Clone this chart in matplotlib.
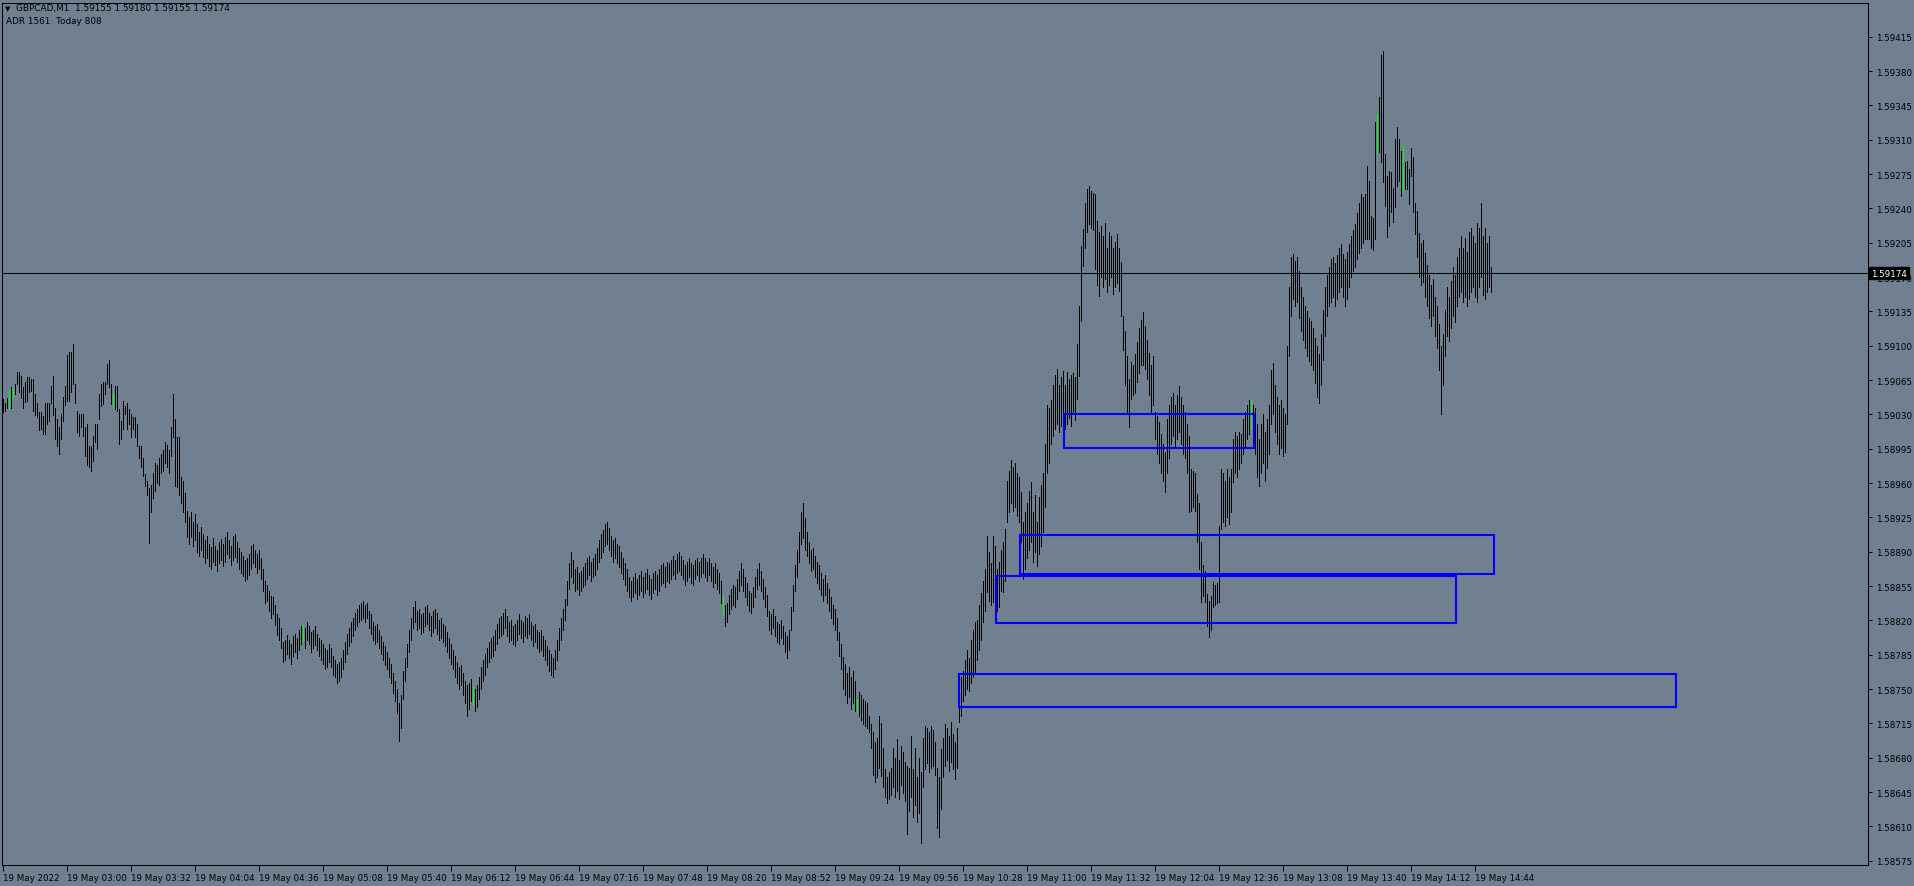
import matplotlib
matplotlib.use("Agg")
import matplotlib.pyplot as plt
import matplotlib.transforms as mtransforms
from matplotlib.patches import Rectangle
import numpy as np

# GBPCAD M1, 19 May 2022 - bar highs / lows in points above 1.58500
base = 1.58500
point = 0.00001

hi = []
lo = []
# bars 0-19
hi += [546, 542, 547, 555, 558, 557, 561, 573, 573, 569, 558, 563, 568, 568, 566, 566, 551, 542, 532, 532]
lo += [532, 533, 537, 535, 537, 547, 551, 561, 553, 547, 537, 543, 544, 553, 554, 533, 529, 527, 514, 515]
# bars 20-39
hi += [528, 542, 542, 542, 559, 569, 537, 525, 517, 530, 548, 559, 591, 594, 594, 602, 561, 533, 530, 530]
lo += [510, 510, 520, 523, 542, 529, 505, 498, 490, 505, 523, 540, 544, 544, 553, 561, 542, 512, 508, 517]
# bars 40-59
hi += [530, 517, 520, 498, 498, 508, 520, 520, 551, 561, 563, 563, 581, 585, 561, 551, 559, 559, 535, 523]
lo += [508, 488, 478, 476, 472, 482, 502, 495, 525, 539, 541, 551, 561, 558, 541, 539, 535, 533, 500, 505]
# bars 60-79
hi += [544, 539, 542, 535, 530, 527, 527, 520, 498, 498, 486, 469, 462, 455, 458, 470, 480, 478, 486, 490]
lo += [515, 530, 515, 520, 507, 515, 507, 498, 486, 476, 467, 457, 448, 399, 430, 445, 452, 460, 458, 470]
# bars 80-99
hi += [494, 502, 499, 494, 517, 551, 525, 507, 507, 466, 462, 450, 432, 425, 430, 420, 428, 418, 410, 415]
lo += [472, 480, 476, 470, 488, 507, 457, 456, 448, 440, 430, 420, 405, 398, 405, 396, 402, 390, 386, 392]
# bars 100-119
hi += [408, 402, 406, 398, 395, 404, 396, 392, 400, 403, 398, 405, 410, 402, 396, 406, 408, 400, 394, 390]
lo += [385, 378, 384, 375, 372, 380, 376, 370, 378, 382, 375, 380, 388, 384, 376, 382, 385, 380, 372, 368]
# bars 120-139
hi += [386, 382, 384, 388, 396, 398, 392, 388, 392, 384, 372, 360, 356, 350, 345, 344, 336, 326, 322, 312]
lo += [365, 360, 362, 366, 372, 378, 374, 368, 372, 362, 350, 338, 340, 330, 322, 326, 315, 305, 300, 292]
# bars 140-159
hi += [298, 300, 305, 300, 296, 304, 306, 302, 310, 314, 315, 312, 318, 314, 308, 310, 314, 306, 302, 300]
lo += [278, 280, 286, 282, 276, 284, 288, 282, 290, 296, 298, 292, 300, 296, 288, 292, 295, 290, 284, 280]
# bars 160-179
hi += [296, 292, 290, 296, 292, 284, 280, 276, 278, 282, 290, 298, 306, 312, 318, 322, 328, 332, 336, 338]
lo += [276, 270, 272, 278, 272, 264, 262, 256, 258, 262, 270, 278, 286, 294, 298, 304, 310, 314, 318, 320]
# bars 180-199
hi += [340, 336, 338, 330, 326, 318, 314, 316, 310, 304, 298, 294, 288, 282, 276, 266, 258, 250, 236, 244]
lo += [322, 318, 322, 312, 306, 300, 296, 298, 292, 286, 280, 274, 270, 262, 256, 246, 238, 226, 197, 210]
# bars 200-219
hi += [268, 282, 296, 310, 322, 334, 340, 330, 332, 326, 328, 334, 336, 328, 324, 330, 332, 328, 320, 322]
lo += [240, 258, 272, 288, 300, 312, 318, 310, 312, 306, 308, 314, 316, 310, 304, 308, 312, 306, 300, 302]
# bars 220-239
hi += [316, 314, 308, 302, 296, 290, 284, 278, 272, 274, 266, 258, 254, 256, 260, 252, 250, 254, 262, 272]
lo += [298, 294, 288, 282, 276, 270, 262, 256, 250, 254, 244, 236, 222, 230, 238, 234, 228, 232, 240, 250]
# bars 240-259
hi += [280, 286, 292, 298, 302, 304, 310, 316, 322, 324, 328, 332, 324, 318, 320, 314, 316, 320, 326, 320]
lo += [258, 264, 272, 278, 282, 284, 290, 296, 302, 304, 306, 312, 304, 298, 300, 296, 294, 300, 306, 302]
# bars 260-279
hi += [318, 324, 322, 326, 318, 314, 316, 310, 308, 310, 304, 300, 294, 290, 286, 282, 290, 300, 312, 322]
lo += [298, 304, 302, 306, 300, 294, 298, 292, 288, 290, 284, 280, 274, 268, 264, 262, 270, 280, 290, 300]
# bars 280-299
hi += [332, 342, 360, 378, 390, 382, 372, 374, 368, 370, 374, 378, 384, 386, 380, 384, 388, 394, 402, 408]
lo += [310, 320, 336, 352, 364, 358, 350, 352, 346, 350, 354, 356, 362, 366, 360, 364, 366, 372, 380, 384]
# bars 300-319
hi += [412, 418, 420, 414, 406, 402, 404, 398, 396, 390, 384, 378, 372, 364, 360, 364, 368, 362, 366, 370]
lo += [390, 396, 398, 392, 386, 380, 384, 378, 374, 368, 362, 356, 350, 344, 340, 344, 348, 342, 346, 350]
# bars 320-339
hi += [364, 368, 372, 366, 362, 368, 370, 366, 372, 376, 378, 374, 380, 378, 382, 386, 382, 388, 390, 386]
lo += [344, 348, 352, 346, 342, 348, 352, 346, 350, 356, 358, 354, 360, 358, 362, 366, 362, 368, 370, 366]
# bars 340-359
hi += [382, 376, 380, 384, 378, 376, 382, 384, 380, 384, 388, 384, 380, 384, 378, 374, 378, 372, 368, 360]
lo += [362, 356, 360, 364, 358, 356, 362, 366, 360, 364, 368, 364, 360, 366, 360, 354, 358, 352, 348, 338]
# bars 360-379
hi += [346, 336, 338, 346, 352, 356, 354, 362, 370, 378, 372, 364, 358, 350, 348, 354, 364, 372, 378, 370]
lo += [326, 314, 318, 326, 332, 336, 334, 342, 350, 356, 350, 344, 336, 330, 328, 334, 344, 352, 356, 350]
# bars 380-399
hi += [362, 354, 346, 330, 326, 332, 324, 318, 316, 320, 314, 308, 304, 310, 334, 356, 376, 392, 410, 430]
lo += [342, 334, 324, 310, 306, 312, 304, 298, 296, 302, 296, 288, 282, 290, 310, 330, 350, 364, 380, 398]
# bars 400-419
hi += [440, 424, 410, 400, 392, 394, 386, 380, 376, 368, 362, 366, 358, 352, 344, 336, 332, 322, 308, 296]
lo += [404, 392, 386, 378, 370, 372, 364, 358, 352, 346, 340, 346, 338, 330, 322, 316, 310, 300, 284, 270]
# bars 420-439
hi += [283, 276, 266, 272, 262, 268, 258, 240, 247, 244, 240, 238, 236, 223, 214, 206, 196, 200, 223, 215]
lo += [250, 244, 236, 242, 230, 236, 228, 227, 222, 218, 214, 212, 210, 206, 190, 162, 155, 160, 170, 161]
# bars 440-459
hi += [190, 168, 160, 165, 170, 190, 180, 199, 178, 192, 186, 176, 172, 170, 202, 168, 190, 160, 180, 165]
lo += [150, 140, 134, 138, 142, 150, 140, 146, 138, 152, 144, 136, 102, 126, 140, 120, 132, 114, 124, 93]
# bars 460-479
hi += [200, 212, 210, 206, 212, 208, 196, 170, 160, 189, 200, 214, 210, 202, 216, 204, 196, 210, 234, 262]
lo += [150, 168, 175, 165, 170, 172, 162, 108, 99, 128, 160, 172, 178, 166, 176, 168, 158, 170, 216, 222]
# bars 480-499
hi += [268, 280, 290, 282, 300, 310, 318, 320, 336, 348, 360, 372, 406, 390, 378, 406, 396, 372, 380, 392]
lo += [238, 244, 250, 248, 256, 262, 267, 280, 290, 300, 318, 330, 349, 340, 336, 339, 352, 330, 334, 350]
# bars 500-519
hi += [400, 413, 462, 472, 484, 476, 480, 470, 466, 451, 420, 430, 440, 452, 461, 430, 448, 420, 446, 458]
lo += [349, 360, 420, 430, 440, 432, 436, 426, 420, 400, 362, 372, 384, 392, 400, 380, 390, 375, 388, 396]
# bars 520-539
hi += [470, 500, 540, 536, 545, 560, 570, 576, 560, 568, 574, 560, 573, 566, 570, 572, 568, 602, 640, 702]
lo += [410, 436, 470, 480, 500, 508, 515, 520, 512, 518, 522, 515, 520, 526, 518, 530, 524, 546, 569, 625]
# bars 540-559
hi += [719, 745, 760, 763, 758, 756, 755, 727, 716, 722, 712, 725, 700, 716, 712, 700, 706, 714, 700, 685]
lo += [681, 700, 716, 724, 720, 718, 678, 662, 651, 670, 660, 668, 655, 662, 670, 653, 660, 664, 656, 630]
# bars 560-579
hi += [630, 615, 590, 566, 583, 580, 592, 604, 618, 626, 634, 620, 606, 593, 580, 590, 532, 528, 522, 510]
lo += [596, 560, 530, 517, 546, 550, 552, 563, 572, 580, 580, 576, 566, 550, 532, 540, 505, 490, 480, 470]
# bars 580-599
hi += [500, 492, 525, 540, 548, 552, 540, 550, 559, 548, 540, 532, 520, 508, 474, 472, 470, 449, 440, 400]
lo += [462, 451, 470, 486, 500, 508, 496, 505, 512, 500, 490, 486, 470, 430, 431, 436, 431, 400, 372, 339]
# bars 600-619
hi += [376, 370, 347, 340, 345, 359, 356, 358, 416, 474, 470, 462, 474, 466, 474, 505, 512, 508, 512, 510]
lo += [345, 339, 314, 303, 310, 334, 336, 338, 339, 413, 420, 416, 425, 418, 430, 461, 470, 466, 474, 480]
# bars 620-639
hi += [525, 532, 540, 545, 546, 540, 536, 520, 505, 520, 530, 512, 525, 540, 575, 582, 560, 548, 540, 545]
lo += [490, 498, 505, 510, 515, 500, 490, 466, 457, 470, 480, 462, 475, 490, 520, 530, 512, 500, 490, 496]
# bars 640-659
hi += [536, 530, 600, 660, 690, 694, 686, 690, 676, 660, 650, 640, 635, 628, 625, 618, 608, 600, 592, 612]
lo += [488, 492, 520, 590, 630, 648, 640, 645, 628, 615, 606, 598, 590, 584, 580, 575, 562, 548, 542, 560]
# bars 660-679
hi += [636, 660, 672, 680, 688, 690, 684, 692, 700, 704, 694, 688, 696, 704, 712, 718, 724, 735, 745, 755]
lo += [585, 610, 630, 640, 645, 650, 640, 648, 655, 660, 650, 640, 648, 660, 670, 676, 680, 688, 695, 700]
# bars 680-699
hi += [752, 755, 783, 768, 732, 730, 828, 836, 854, 896, 900, 795, 773, 778, 777, 761, 811, 823, 811, 799]
lo += [705, 709, 709, 709, 700, 698, 709, 795, 797, 787, 767, 742, 711, 722, 736, 726, 741, 763, 768, 753]
# bars 700-719
hi += [804, 787, 788, 780, 802, 792, 746, 737, 715, 705, 708, 695, 682, 672, 662, 668, 650, 640, 622, 600]
lo += [758, 760, 760, 744, 773, 736, 714, 690, 670, 662, 665, 650, 640, 628, 620, 630, 610, 598, 575, 530]
# bars 720-739
hi += [612, 636, 660, 650, 666, 680, 672, 690, 700, 712, 700, 710, 696, 716, 720, 712, 705, 725, 720, 746]
lo += [560, 590, 610, 605, 618, 630, 624, 640, 650, 655, 645, 650, 640, 648, 655, 660, 650, 645, 660, 670]
# bars 740-744
hi += [712, 720, 705, 712, 680]
lo += [652, 648, 655, 660, 655]

green_bars = [3, 5, 55, 150, 235, 360, 427, 624, 687, 700]

# supply/demand boxes (bar index start/end, low/high in points)
box_start = [530.5, 508.5, 496.5, 478]
box_end = [625.5, 745.5, 726.5, 836.5]
box_low = [496, 367, 317, 232]
box_high = [530, 407, 365, 265]

last_price = 1.59174
time_labels = ['19 May 2022', '19 May 03:00', '19 May 03:32', '19 May 04:04', '19 May 04:36',
               '19 May 05:08', '19 May 05:40', '19 May 06:12', '19 May 06:44', '19 May 07:16',
               '19 May 07:48', '19 May 08:20', '19 May 08:52', '19 May 09:24', '19 May 09:56',
               '19 May 10:28', '19 May 11:00', '19 May 11:32', '19 May 12:04', '19 May 12:36',
               '19 May 13:08', '19 May 13:40', '19 May 14:12', '19 May 14:44']

bg = '#708090'
plt.rcParams['font.family'] = ['DejaVu Sans']

W, H = 1914, 887
fig = plt.figure(figsize=(W / 100, H / 100), dpi=100, facecolor=bg)
ax = fig.add_axes([2 / W, 21 / H, 1866 / W, 862 / H], facecolor=bg)

x = np.arange(len(hi))
highs = base + np.array(hi) * point
lows = base + np.array(lo) * point
cols = ['#00ff00' if i in green_bars else 'black' for i in x]
# 1 px wide bars, no antialiasing (like the terminal)
ax.vlines(x, lows, highs, colors=cols, linewidth=0.6, antialiased=False, zorder=2)

# horizontal line at current price
ax.axhline(last_price, color='black', linewidth=0.75, zorder=1)

for s, e, l, h in zip(box_start, box_end, box_low, box_high):
    ax.add_patch(Rectangle((s, base + l * point), e - s, (h - l) * point,
                           fill=False, edgecolor='#0000ff', linewidth=1.5, zorder=3))

ax.set_xlim(-0.5, 932.5)
ax.set_ylim(1.585706, 1.594494)

# price axis
yt = np.arange(1.58575, 1.59416, 0.00035)
ax.yaxis.tick_right()
ax.set_yticks(yt)
ax.set_yticklabels(['%.5f' % v for v in yt])
ax.tick_params(axis='y', direction='out', length=3, width=0.75, labelsize=6.3, pad=3, colors='black')

# time axis
ax.set_xticks(np.arange(len(time_labels)) * 32)
ax.set_xticklabels(time_labels)
ax.tick_params(axis='x', direction='out', length=4, width=0.75, labelsize=6.3, pad=2, colors='black')
for lbl in ax.get_xticklabels():
    lbl.set_horizontalalignment('left')

for sp in ax.spines.values():
    sp.set_color('black')
    sp.set_linewidth(0.75)

# last price tag (sits over the 1.59170 label, as in the terminal)
trans = mtransforms.blended_transform_factory(ax.transAxes, ax.transData)
ax.text(1.0 + 3 / 1866, last_price, '%.5f' % last_price, transform=trans, color='white',
        fontsize=6.3, va='center', ha='left', clip_on=False, zorder=10,
        bbox=dict(boxstyle='square,pad=0.2', fc='black', ec='black'))

# header
fig.text(5 / W, 1 - 9 / H, '▼', fontsize=5, va='center', ha='left', color='black')
fig.text(16 / W, 1 - 9 / H, 'GBPCAD,M1  1.59155 1.59180 1.59155 1.59174', fontsize=6.4,
         va='center', ha='left', color='black')
fig.text(6 / W, 1 - 22 / H, 'ADR 1561  Today 808', fontsize=6.4, va='center', ha='left', color='black')

fig.savefig('out.png', dpi=100, facecolor=bg)
